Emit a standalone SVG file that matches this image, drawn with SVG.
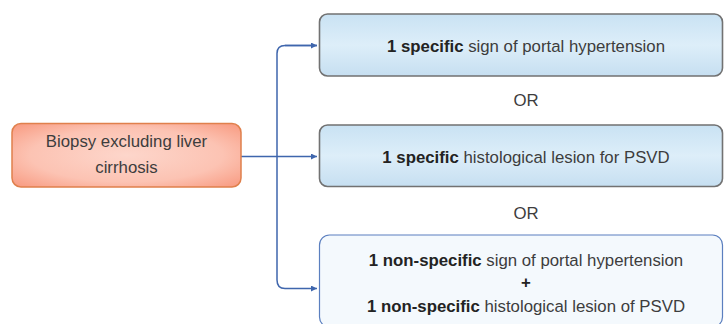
<svg xmlns="http://www.w3.org/2000/svg" width="725" height="324" viewBox="0 0 725 324">
<style>
text{font-family:"Liberation Sans",Arial,sans-serif;font-size:16.8px;fill:#3d3d3d;text-anchor:middle}
.b{font-weight:bold;fill:#232323}
.conn{fill:none;stroke:#3f66ad;stroke-width:1.5}
</style>
<defs>
<radialGradient id="gOr" cx="0.5" cy="0.5" r="0.7">
<stop offset="0" stop-color="#fdd6cb"/>
<stop offset="0.6" stop-color="#fcc3b3"/>
<stop offset="1" stop-color="#f8997f"/>
</radialGradient>
<linearGradient id="gBl" x1="0" y1="0" x2="0" y2="1">
<stop offset="0" stop-color="#c9e2f3"/>
<stop offset="0.5" stop-color="#ddeef9"/>
<stop offset="1" stop-color="#c6dff1"/>
</linearGradient>
<marker id="arr" viewBox="0 0 10 10" refX="10" refY="5" markerWidth="8" markerHeight="6" markerUnits="userSpaceOnUse" orient="auto">
<path d="M0,0 L10,5 L0,10 Z" fill="#3f66ad"/>
</marker>
</defs>
<g id="connectors">
<path class="conn" d="M241,156.5 H317" marker-end="url(#arr)"/>
<path class="conn" d="M317,45.5 H285 Q277,45.5 277,53.5 V280 Q277,288.5 285,288.5 H317" marker-end="url(#arr)"/>
<path class="conn" d="M285,45.5 H317" marker-end="url(#arr)"/>
</g>
<g id="biopsy">
<rect x="12" y="123.5" width="229" height="63.5" rx="9" fill="url(#gOr)" stroke="#e0804c" stroke-width="1.5"/>
<text x="126.5" y="147">Biopsy excluding liver</text>
<text x="126.5" y="173">cirrhosis</text>
</g>
<g id="box1">
<rect x="319.5" y="14" width="403" height="62" rx="8" fill="url(#gBl)" stroke="#727272" stroke-width="1.6"/>
<text x="526" y="52"><tspan class="b">1 specific</tspan> sign of portal hypertension</text>
</g>
<text id="or1" x="526" y="106">OR</text>
<g id="box2">
<rect x="319.5" y="125" width="403" height="61.5" rx="8" fill="url(#gBl)" stroke="#727272" stroke-width="1.6"/>
<text x="526" y="163"><tspan class="b">1 specific</tspan> histological lesion for PSVD</text>
</g>
<text id="or2" x="526" y="219">OR</text>
<g id="box3">
<rect x="319.5" y="235" width="403" height="92" rx="10" fill="#f4f9fd" stroke="#5b7fbf" stroke-width="1.2"/>
<text x="526" y="266"><tspan class="b">1 non-specific</tspan> sign of portal hypertension</text>
<text x="526" y="288" class="b">+</text>
<text x="526" y="311.5"><tspan class="b">1 non-specific</tspan> histological lesion of PSVD</text>
</g>
</svg>
